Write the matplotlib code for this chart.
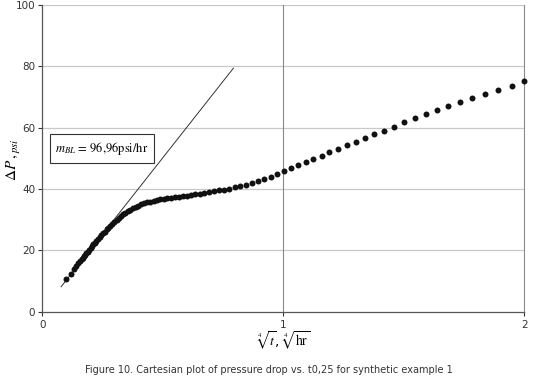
import matplotlib
matplotlib.use("Agg")
import matplotlib.pyplot as plt

# ---- data ----
x_vals = [0.100, 0.119, 0.132, 0.141, 0.150, 0.157, 0.163, 0.168, 0.173, 0.178,
          0.183, 0.189, 0.194, 0.200, 0.206, 0.212, 0.218, 0.224, 0.231, 0.238,
          0.245, 0.252, 0.259, 0.267, 0.274, 0.282, 0.291, 0.299, 0.308, 0.317,
          0.326, 0.335, 0.345, 0.355, 0.365, 0.376, 0.387, 0.398, 0.410, 0.422,
          0.434, 0.447, 0.463, 0.476, 0.490, 0.504, 0.519, 0.534, 0.550, 0.566,
          0.582, 0.599, 0.616, 0.634, 0.653, 0.672, 0.691, 0.711, 0.732, 0.753,
          0.775, 0.798, 0.821, 0.845, 0.869, 0.894, 0.920, 0.947, 0.975, 1.003,
          1.032, 1.062, 1.093, 1.124, 1.159, 1.191, 1.228, 1.263, 1.300, 1.338,
          1.378, 1.418, 1.459, 1.501, 1.546, 1.591, 1.636, 1.685, 1.733, 1.784,
          1.837, 1.892, 1.948, 2.000]
dp_vals = [10.6, 12.4, 13.9, 14.8, 15.7, 16.4, 17.0, 17.5, 18.0, 18.5,
           19.0, 19.6, 20.1, 20.7, 21.3, 21.9, 22.5, 23.0, 23.7, 24.3,
           24.9, 25.5, 26.1, 26.8, 27.4, 28.0, 28.7, 29.3, 29.9, 30.5,
           31.1, 31.7, 32.3, 32.8, 33.3, 33.8, 34.2, 34.6, 35.0, 35.3,
           35.6, 35.9, 36.2, 36.4, 36.6, 36.8, 37.0, 37.1, 37.3, 37.4,
           37.6, 37.8, 38.0, 38.2, 38.4, 38.7, 38.9, 39.2, 39.5, 39.8,
           40.1, 40.5, 40.9, 41.4, 41.9, 42.5, 43.2, 44.0, 44.9, 45.9,
           46.7, 47.7, 48.7, 49.7, 50.8, 52.0, 53.0, 54.2, 55.3, 56.5,
           57.8, 59.0, 60.3, 61.7, 63.0, 64.3, 65.7, 67.1, 68.3, 69.8,
           71.0, 72.4, 73.7, 75.1]
line_x = [0.078, 0.793]
line_y = [8.1, 79.4]
x_ticks = [0, 1, 2]
y_ticks = [0, 20, 40, 60, 80, 100]
annot_text = r"$m_{BL}$ = 96,96psi/hr"
caption = "Figure 10. Cartesian plot of pressure drop vs. t0,25 for synthetic example 1"

plt.rcParams['mathtext.fontset'] = 'stix'

fig = plt.figure(figsize=(5.35, 3.87), dpi=100)
ax = fig.add_axes([42.3/535, 1 - 311.6/387, (524.3 - 42.3)/535, (311.6 - 5)/387])

ax.set_xlim(0, 2)
ax.set_ylim(0, 100)
ax.set_xticks(x_ticks)
ax.set_yticks(y_ticks)

for y in y_ticks[1:]:
    ax.axhline(y, color='#c8c8c8', lw=0.9, zorder=0)
ax.axvline(1, color='#8a8a8a', lw=0.8, zorder=0)

ax.plot(line_x, line_y, color='#333333', lw=0.7, zorder=2)
ax.plot(x_vals, dp_vals, 'o', color='#111111', ms=4.3, mec='none', zorder=3, clip_on=False)

ax.spines['top'].set_visible(False)
ax.spines['right'].set_color('#8a8a8a')
ax.spines['right'].set_linewidth(0.8)
ax.spines['left'].set_color('#555555')
ax.spines['bottom'].set_color('#555555')
ax.spines['left'].set_linewidth(0.9)
ax.spines['bottom'].set_linewidth(0.9)

ax.tick_params(axis='both', labelsize=7.5, colors='#333333', length=3, width=0.8)
ax.tick_params(axis='y', direction='out', pad=2)
ax.tick_params(axis='x', direction='out', pad=3)

ax.set_xlabel(r"$\sqrt[4]{t}$, $\sqrt[4]{\mathrm{hr}}$", fontsize=10, labelpad=0)
fig.text(14/535, 1 - 160/387, r"$\Delta P\,,_{psi}$", fontsize=11, rotation=90,
         ha='center', va='center')

ax.text(0.248, 53.2, annot_text, fontsize=9, family='STIXGeneral', ha='center', va='center',
        bbox=dict(boxstyle='square,pad=0.45', fc='white', ec='#333333', lw=0.8), zorder=4)

fig.text(268.5/535, 1 - 370/387, caption, fontsize=7.0, color='#333333', ha='center', va='center')

fig.savefig("out.png", dpi=100)
